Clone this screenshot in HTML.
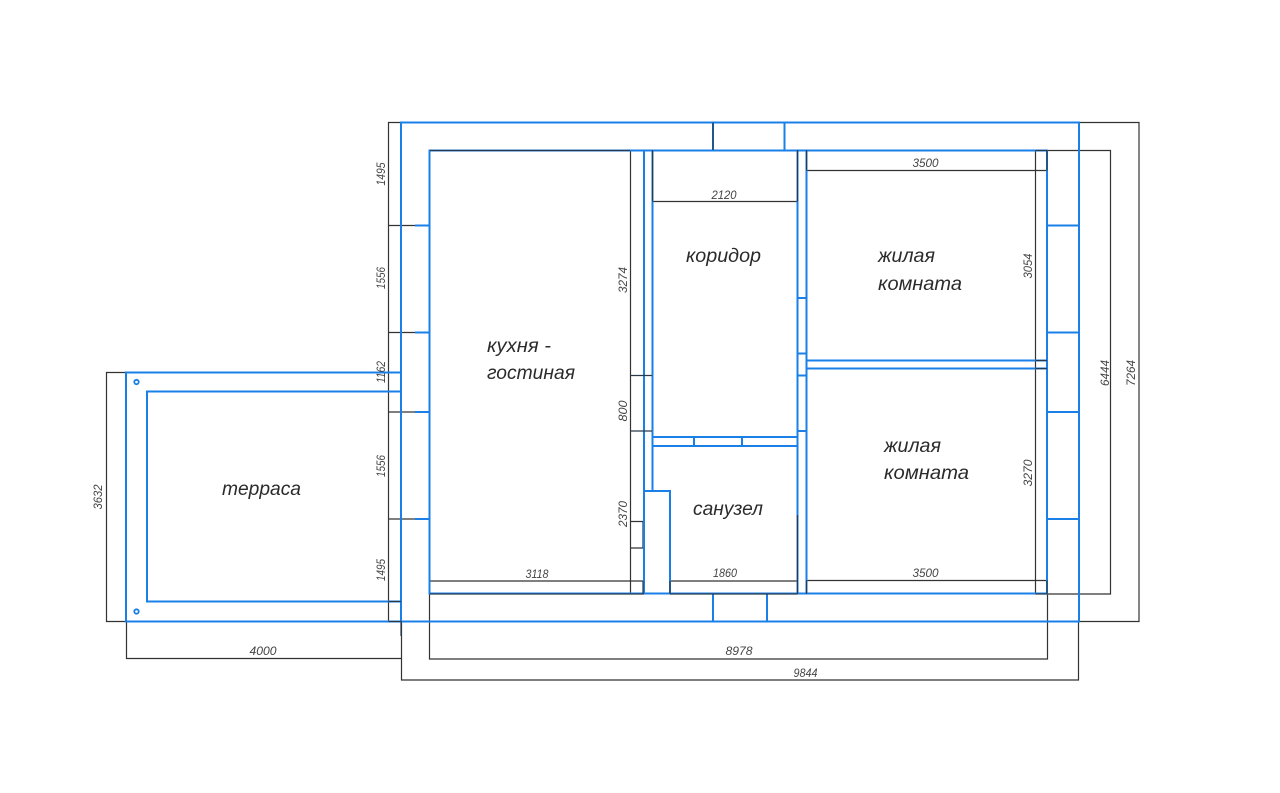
<!DOCTYPE html>
<html>
<head>
<meta charset="utf-8">
<style>
html,body{margin:0;padding:0;background:#fff;width:1280px;height:793px;overflow:hidden}
svg{display:block;position:absolute;left:0;top:0}
.k path{stroke:#333;stroke-width:1.2;fill:none}
.b path,.b rect{stroke:#1a80e8;stroke-width:2;fill:none}
.t path{stroke:#2a3a4a;stroke-width:1.2;fill:none}
text{font-family:"Liberation Sans","DejaVu Sans",sans-serif;font-style:italic;fill:#2b2b2b}
.l{font-size:19px}
.d{font-size:12px;fill:#444;text-anchor:middle}
</style>
</head>
<body>
<svg width="1280" height="793" viewBox="0 0 1280 793" xmlns="http://www.w3.org/2000/svg">
<!-- black dimension lines -->
<g class="k">
<path d="M401 122.5H388.5V621.5H401"/>
<path d="M388.5 225.5H415M388.5 332.5H415M388.5 412H415M388.5 519H415"/>
<path d="M126 372.5H106.5V621.5H126"/>
<path d="M126.5 621V658.5H401.5"/>
<path d="M401.5 621V680H1078.5V621"/>
<path d="M429.5 594V659H1047.5V594"/>
<path d="M1079 122.5H1139V621.5H1079"/>
<path d="M1047 150.5H1110.5V594H1047"/>
<path d="M1035.5 150.5V594"/>
<path d="M806.5 170.5H1047"/>
<path d="M806.5 580.5H1047"/>
<path d="M630.5 150.5V594"/>
<path d="M630.5 521.5H643V548H630.5"/>
<path d="M429.5 581H643"/>
<path d="M670 581H797.5"/>
<path d="M652.5 201.5H797.5"/>
</g>
<!-- blue plan lines -->
<g class="b">
<rect x="401" y="122.5" width="678" height="499"/>
<path d="M429.5 150.5H1047V593.5H429.5Z"/>
<path d="M401 372.5H126V621.5H401"/>
<path d="M401 391.5H147V601.5H401"/>
<path d="M415 225.5H429.5M415 332.5H429.5M415 412H429.5M415 519H429.5"/>
<path d="M1047 225.5H1079M1047 332.5H1079M1047 412H1079M1047 519H1079"/>
<path d="M713 122.5V150.5M784.5 122.5V150.5M713 594V621.5M767 594V621.5"/>
<path d="M644 150.500V491M652.5 150.500V491"/>
<path d="M644 594V491H670V594"/>
<path d="M797.5 150.500V594M806.5 150.500V594"/>
<path d="M797.5 298H806.500M797.5 353.5H806.500M797.5 375.5H806.500M797.5 431H806.500"/>
<path d="M652.500 437H797.500M652.500 446H797.500M694 437V446M742 437V446"/>
<path d="M806.500 360.500H1047M806.500 368.500H1047"/>
</g>
<!-- dark overlays where dimension lines sit on the walls -->
<g class="t">
<path d="M652.500 150V201.500M797.500 150V201.500M806.500 150V170.500M1047 150V170.500"/>
<path d="M713 122.500V150"/>
<path d="M630.500 375.500H652M630.500 431H652"/>
<path d="M1035.500 150.500H1047M1035.500 360.500H1047M1035.500 368.500H1047M1035.500 594H1047"/>
<path d="M1047 580.500V594M806.500 580.500V594M797.500 515V594M670 581V594M670 594H797.500"/>
<path d="M430 594H644M643 581V594M430 150.500H630"/>
<path d="M388.500 621.500H401M388.500 601.500H401M401 636V621"/>
</g>
<circle cx="136.500" cy="382" r="2.200" fill="#fff" stroke="#1a80e8" stroke-width="1.800"/>
<circle cx="136.500" cy="611.500" r="2.200" fill="#fff" stroke="#1a80e8" stroke-width="1.800"/>
<!-- room labels -->
<text class="l" x="487" y="352" textLength="64" lengthAdjust="spacingAndGlyphs">кухня -</text>
<text class="l" x="487" y="379" textLength="88" lengthAdjust="spacingAndGlyphs">гостиная</text>
<text class="l" x="686" y="262" textLength="75" lengthAdjust="spacingAndGlyphs">коридор</text>
<text class="l" x="878" y="262" textLength="57" lengthAdjust="spacingAndGlyphs">жилая</text>
<text class="l" x="878" y="290" textLength="84" lengthAdjust="spacingAndGlyphs">комната</text>
<text class="l" x="884" y="452" textLength="57" lengthAdjust="spacingAndGlyphs">жилая</text>
<text class="l" x="884" y="479" textLength="85" lengthAdjust="spacingAndGlyphs">комната</text>
<text class="l" x="693" y="515" textLength="70" lengthAdjust="spacingAndGlyphs">санузел</text>
<text class="l" x="222" y="495" textLength="79" lengthAdjust="spacingAndGlyphs">терраса</text>
<!-- horizontal dimensions -->
<text class="d" x="724" y="199" textLength="25" lengthAdjust="spacingAndGlyphs">2120</text>
<text class="d" x="925.500" y="167" textLength="26" lengthAdjust="spacingAndGlyphs">3500</text>
<text class="d" x="537" y="578" textLength="23" lengthAdjust="spacingAndGlyphs">3118</text>
<text class="d" x="725" y="577" textLength="24" lengthAdjust="spacingAndGlyphs">1860</text>
<text class="d" x="925.500" y="577" textLength="26" lengthAdjust="spacingAndGlyphs">3500</text>
<text class="d" x="263" y="655" textLength="27" lengthAdjust="spacingAndGlyphs">4000</text>
<text class="d" x="739" y="655" textLength="27" lengthAdjust="spacingAndGlyphs">8978</text>
<text class="d" x="805.500" y="677" textLength="24" lengthAdjust="spacingAndGlyphs">9844</text>
<!-- vertical dimensions -->
<text class="d" transform="translate(385 174) rotate(-90)" textLength="23" lengthAdjust="spacingAndGlyphs">1495</text>
<text class="d" transform="translate(385 278) rotate(-90)" textLength="22" lengthAdjust="spacingAndGlyphs">1556</text>
<text class="d" transform="translate(385 372) rotate(-90)" textLength="22" lengthAdjust="spacingAndGlyphs">1162</text>
<text class="d" transform="translate(385 466) rotate(-90)" textLength="22" lengthAdjust="spacingAndGlyphs">1556</text>
<text class="d" transform="translate(385 570) rotate(-90)" textLength="22" lengthAdjust="spacingAndGlyphs">1495</text>
<text class="d" transform="translate(102 497) rotate(-90)" textLength="25" lengthAdjust="spacingAndGlyphs">3632</text>
<text class="d" transform="translate(627 280) rotate(-90)" textLength="26" lengthAdjust="spacingAndGlyphs">3274</text>
<text class="d" transform="translate(627 411) rotate(-90)" textLength="21" lengthAdjust="spacingAndGlyphs">800</text>
<text class="d" transform="translate(627 514) rotate(-90)" textLength="26" lengthAdjust="spacingAndGlyphs">2370</text>
<text class="d" transform="translate(1032 266) rotate(-90)" textLength="25" lengthAdjust="spacingAndGlyphs">3054</text>
<text class="d" transform="translate(1032 473) rotate(-90)" textLength="27" lengthAdjust="spacingAndGlyphs">3270</text>
<text class="d" transform="translate(1109 373) rotate(-90)" textLength="26" lengthAdjust="spacingAndGlyphs">6444</text>
<text class="d" transform="translate(1135 373) rotate(-90)" textLength="26" lengthAdjust="spacingAndGlyphs">7264</text>
</svg>
</body>
</html>
